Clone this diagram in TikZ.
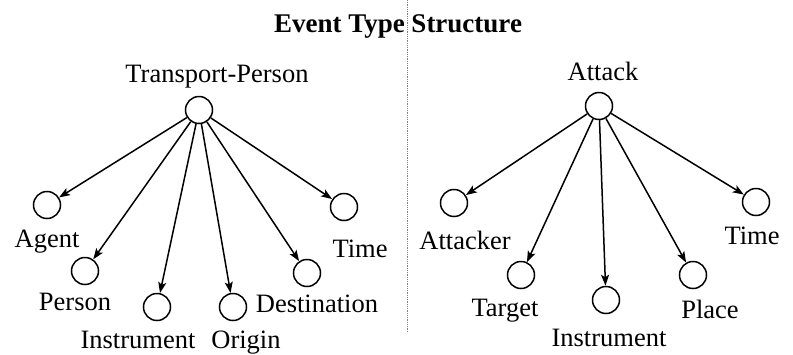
\documentclass[tikz,border=0pt]{standalone}
\usepackage{fontspec}
\setmainfont{Liberation Serif}
\usetikzlibrary{arrows.meta}

\begin{document}
\begin{tikzpicture}[x=1pt, y=-1pt,
                    arg/.style={circle, draw, line width=1.5pt, minimum size=27pt, inner sep=0pt},
                    role/.style={anchor=base, inner sep=0pt, font=\fontsize{26.5}{30}\selectfont},
                    edge/.style={-{Stealth[length=11pt,width=8pt,inset=2.5pt]}, line width=1.5pt},
                ]
\useasboundingbox (0,0) rectangle (793,354);
\node[role, font=\bfseries\fontsize{27}{30}\selectfont] (title) at (398,32) {Event Type Structure};
\coordinate (divtop) at (407,0);
\coordinate (divbot) at (407,333);
\draw[densely dotted, gray, line width=0.8pt] (divtop) -- (divbot);

% Transport-Person
\node[arg] (tp) at (199,110) {};
\node[role] (tplabel) at (217,82) {Transport-Person};
\node[arg] (agent) at (47,205) {};
\node[arg] (person) at (85,271) {};
\node[arg] (instr) at (157,307) {};
\node[arg] (origin) at (233,307) {};
\node[arg] (dest) at (307,273) {};
\node[arg] (time) at (344,207) {};
\node[role] (agentlabel) at (47,247) {Agent};
\node[role] (personlabel) at (75,310) {Person};
\node[role] (instrlabel) at (138,348) {Instrument};
\node[role] (originlabel) at (246,348) {Origin};
\node[role] (destlabel) at (317,312) {Destination};
\node[role] (timelabel) at (360,257) {Time};
\foreach \c in {agent, person, instr, origin, dest, time}
  \draw[edge] (tp) -- (\c);

% Attack
\node[arg] (at) at (599,106) {};
\node[role] (atlabel) at (603,80) {Attack};
\node[arg] (attacker) at (454,203) {};
\node[arg] (target) at (521,275) {};
\node[arg] (ainstr) at (606,300) {};
\node[arg] (place) at (693,275) {};
\node[arg] (atime) at (756,202) {};
\node[role] (attackerlabel) at (465,249) {Attacker};
\node[role] (targetlabel) at (505,316) {Target};
\node[role] (ainstrlabel) at (609,346) {Instrument};
\node[role] (placelabel) at (710,318) {Place};
\node[role] (atimelabel) at (752,244) {Time};
\foreach \c in {attacker, target, ainstr, place, atime}
  \draw[edge] (at) -- (\c);
\end{tikzpicture}
\end{document}
